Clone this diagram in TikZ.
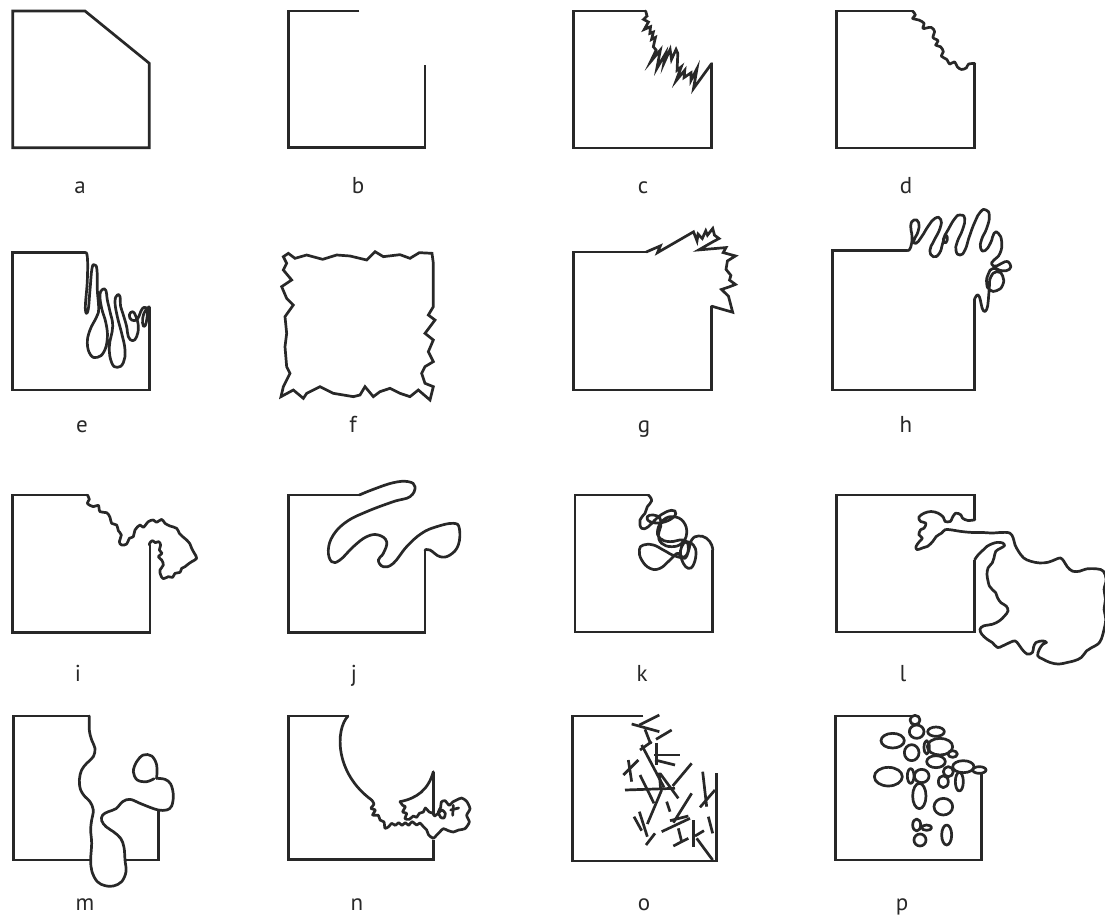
\documentclass[tikz,border=0pt]{standalone}
\usepackage{fontspec}
\setmainfont{PT Sans}
\definecolor{inkc}{RGB}{40,40,40}
\begin{document}
\begin{tikzpicture}[x=1pt,y=-1pt]
\tikzset{
  ink/.style={draw=inkc, line width=2.7pt, line join=round, line cap=round},
  frame/.style={draw=inkc, line width=2.7pt, line join=miter, line cap=butt},
  lab/.style={font=\fontsize{23}{26}\selectfont, text=inkc, anchor=base, inner sep=0pt},
  sm/.style={ink, smooth, tension=0.6}
}
\useasboundingbox (0,0) rectangle (1105,915);

% ---------------- labels
\node[lab] (la) at (80,193) {a};
\node[lab] (lb) at (358,193) {b};
\node[lab] (lc) at (643,193) {c};
\node[lab] (ld) at (906,193) {d};
\node[lab] (le) at (82,432) {e};
\node[lab] (lf) at (353,432) {f};
\node[lab] (lg) at (644,432) {g};
\node[lab] (lh) at (906,432) {h};
\node[lab] (li) at (78,681) {i};
\node[lab] (lj) at (354,681) {j};
\node[lab] (lk) at (642,681) {k};
\node[lab] (ll) at (903,681) {l};
\node[lab] (lm) at (85,910) {m};
\node[lab] (ln) at (357,910) {n};
\node[lab] (lo) at (644,910) {o};
\node[lab] (lp) at (902,910) {p};

% ---------------- a, b
\begin{scope}[shift={(0,0)},scale=1/3]
\draw[frame] (38,33) -- (255,33) -- (448,190) -- (448,443) -- (38,443) -- cycle;
\draw[frame] (1078,33) -- (865,33) -- (865,443) -- (1275,443) -- (1275,195);
\end{scope}

% ---------------- c, d
\begin{scope}[shift={(559,0)},xscale=.3494,yscale=.334]
\draw[frame] (248,33) -- (42,33) -- (42,443) -- (437,443) -- (437,190);
\draw[ink, line join=miter] plot coordinates {(248,33) (252,48) (242,58) (256,66) (244,88) (262,80) (260,100) (270,96) (265,118) (276,112) (270,140) (278,150) (262,185) (290,150) (280,205) (305,160) (300,190) (318,148) (322,178) (335,148) (340,160) (338,210) (350,200) (335,242) (360,210) (358,232) (378,218) (378,240) (395,205) (385,265) (437,190)};
\draw[frame] (1012,33) -- (795,33) -- (795,443) -- (1190,443) -- (1190,190);
\draw[sm] plot coordinates {(1012,33) (1020,45) (1012,55) (1030,60) (1045,70) (1042,85) (1065,82) (1075,95) (1070,112) (1085,122) (1078,135) (1092,140) (1100,155) (1094,168) (1110,178) (1118,192) (1132,185) (1140,200) (1152,208) (1166,203) (1172,192) (1190,190)};
\end{scope}

% ---------------- e, f
\begin{scope}[shift={(0,240)},scale=1/3]
\draw[frame] (255,38) -- (38,38) -- (38,450) -- (448,450) -- (448,200);
\draw[ink] plot[smooth, tension=0.75] coordinates {(255,38) (262,50) (262,120) (256,205) (264,212) (270,150) (276,85) (284,75) (291,90) (292,150) (296,205) (290,230) (270,270) (262,310) (272,345) (292,352) (312,335) (322,295) (318,250) (305,205) (300,165) (308,148) (318,152) (322,180) (330,215) (338,260) (328,320) (335,368) (352,382) (370,368) (375,330) (365,280) (352,230) (345,185) (352,165) (360,170) (362,200) (370,225) (380,260) (385,290) (398,302) (410,290) (415,260) (408,230) (398,215) (388,225) (395,240) (412,238) (422,215) (432,202) (442,212) (438,250) (430,258) (428,235) (436,212) (448,200)};
\draw[ink, line join=miter] plot coordinates {(850,50) (865,40) (885,55) (920,45) (968,58) (1010,45) (1050,48) (1100,60) (1125,35) (1150,50) (1200,44) (1230,55) (1258,38) (1296,40) (1300,70) (1300,200) (1285,225) (1305,240) (1290,260) (1275,280) (1300,300) (1285,335) (1300,365) (1275,380) (1265,400) (1275,430) (1300,440) (1290,480) (1255,450) (1230,470) (1200,460) (1170,445) (1140,455) (1120,470) (1095,440) (1080,465) (1060,470) (1000,460) (960,440) (920,460) (910,475) (880,450) (843,470) (850,440) (870,400) (860,380) (855,320) (860,280) (855,230) (880,195) (860,175) (845,140) (875,120) (850,90) (860,70)} -- cycle;
\end{scope}

% ---------------- g
\begin{scope}[shift={(559,199)},xscale=.3494,yscale=.335]
\draw[frame] (250,158) -- (42,158) -- (42,570) -- (437,570) -- (437,320);
\draw[ink, line join=miter] plot coordinates {(250,158) (290,140) (282,160) (385,98) (395,125) (398,105) (410,118) (420,95) (425,108) (440,88) (445,108) (458,118) (440,128) (400,152) (478,145) (470,160) (505,170) (482,185) (478,210) (492,228) (488,242) (505,255) (488,262) (465,270) (485,290) (497,338) (437,320)};
\end{scope}

% ---------------- h
\begin{scope}[shift={(820,200)},scale=1/3]
\draw[frame] (262,152) -- (38,152) -- (38,570) -- (463,570) -- (463,300);
\draw[ink] plot[smooth, tension=0.9] coordinates {(262,152) (272,142) (276,110) (272,78) (282,60) (296,68) (294,95) (282,120) (288,130) (305,110) (325,78) (345,55) (362,58) (360,85) (342,122) (330,150) (340,170) (358,160) (368,130) (375,108) (382,112) (378,128) (370,118) (385,88) (405,55) (420,45) (434,55) (428,88) (412,125) (408,152) (420,165) (435,150) (448,110) (465,65) (482,35) (498,30) (508,48) (500,85) (485,118) (482,145) (495,152) (512,128) (522,100) (535,100) (545,125) (540,160) (522,180) (515,192) (530,198) (555,185) (570,192) (568,208) (545,212) (520,205) (505,222) (500,250) (510,270) (530,272) (548,255) (548,228) (530,215) (512,232) (508,262) (505,300) (500,328) (490,332) (483,310) (478,290) (470,286) (463,300)};
\end{scope}

% ---------------- i, j
\begin{scope}[shift={(0,480)},scale=1/3]
\draw[frame] (262,45) -- (38,45) -- (38,457) -- (450,457) -- (450,195);
\draw[sm] plot coordinates {(262,45) (268,58) (262,70) (280,80) (295,76) (300,95) (320,98) (330,112) (335,130) (350,135) (355,152) (364,165) (358,185) (365,195) (380,192) (388,175) (400,170) (405,150) (420,135) (430,142) (445,125) (460,120) (470,127) (485,118) (495,130) (510,138) (530,145) (538,160) (548,170) (560,180) (570,192) (575,205) (582,218) (590,235) (575,245) (565,252) (555,260) (545,265) (540,277) (525,280) (518,292) (505,290) (490,296) (482,285) (480,270) (490,255) (485,240) (475,230) (486,220) (478,210) (482,195) (476,185) (466,188) (458,182) (450,188) (448,195)};
\draw[frame] (1078,45) -- (865,45) -- (865,457) -- (1275,457) -- (1275,210);
\draw[ink] plot[smooth, tension=0.7] coordinates {(1078,45) (1120,28) (1180,8) (1225,5) (1245,20) (1230,50) (1180,65) (1100,95) (1040,125) (1000,165) (985,210) (995,245) (1020,240) (1060,200) (1100,170) (1135,165) (1160,185) (1150,220) (1135,240) (1150,260) (1180,250) (1220,200) (1265,160) (1310,140) (1360,130) (1378,145) (1375,195) (1350,225) (1320,230) (1290,210) (1275,210)};
\end{scope}

% ---------------- k
\begin{scope}[shift={(560,480)},scale=1/3]
\draw[frame] (265,45) -- (45,45) -- (45,456) -- (458,456) -- (458,210);
\draw[ink] plot[smooth, tension=0.75] coordinates {(265,45) (275,62) (262,80) (255,100) (240,120) (245,145) (265,140) (290,115) (320,95) (345,93) (340,112) (305,128) (270,125) (262,110) (280,105) (300,115) (302,140) (295,165) (305,190) (335,200) (365,190) (380,160) (370,125) (340,110) (310,120) (293,150) (300,175) (330,185) (370,180) (385,200) (375,230) (345,228) (310,210) (280,195) (250,195) (238,210) (245,240) (270,265) (300,265) (330,240) (355,220) (370,250) (385,265) (400,255) (408,220) (400,195) (380,185) (365,200) (362,225) (375,235) (385,215) (395,180) (415,168) (440,175) (455,195) (458,210)};
\end{scope}

% ---------------- l
\begin{scope}[shift={(559,480)},xscale=.3494,yscale=.3317]
\draw[frame] (1190,120) -- (1190,45) -- (795,45) -- (795,458) -- (1190,458) -- (1190,240);
\draw[sm] plot coordinates {(1190,120) (1170,122) (1155,115) (1150,105) (1135,100) (1125,115) (1120,125) (1105,125) (1100,112) (1085,100) (1065,95) (1045,100) (1030,112) (1035,125) (1050,130) (1045,145) (1035,150) (1030,165) (1040,175) (1032,185) (1022,200) (1025,210) (1040,205) (1055,200) (1070,185) (1080,170) (1095,160) (1105,150) (1120,150) (1150,155) (1180,158) (1210,158) (1240,160) (1265,158) (1290,160) (1300,175) (1305,195) (1315,215) (1330,235) (1350,245) (1375,250) (1400,248) (1420,240) (1435,235) (1445,245) (1455,262) (1470,275) (1490,275) (1510,268) (1540,268) (1558,275) (1566,300) (1560,330) (1564,360) (1560,390) (1565,420) (1560,450) (1552,480) (1542,495) (1525,505) (1510,515) (1495,535) (1475,545) (1455,550) (1430,555) (1405,550) (1385,540) (1370,530) (1375,510) (1385,495) (1395,490) (1385,485) (1365,490) (1358,505) (1355,520) (1340,525) (1325,510) (1315,495) (1305,485) (1290,490) (1270,500) (1255,505) (1240,490) (1225,480) (1210,465) (1205,450) (1215,440) (1240,435) (1260,425) (1275,410) (1285,395) (1280,380) (1265,370) (1255,355) (1250,340) (1240,330) (1232,320) (1228,305) (1225,285) (1228,265) (1240,250) (1245,235) (1250,215) (1265,205) (1275,198) (1270,190) (1255,188) (1240,192) (1225,200) (1215,210) (1200,225) (1190,240)};
\end{scope}

% ---------------- m
\begin{scope}[shift={(0,730)},scale=1/3]
\draw[frame] (272,390) -- (40,390) -- (40,-42) -- (268,-42);
\draw[frame] (372,390) -- (475,390) -- (475,240);
\draw[sm] plot coordinates {(268,-42) (268,0) (275,30) (285,55) (280,80) (260,100) (245,120) (238,150) (242,180) (255,200) (270,215) (280,240) (275,270) (272,300) (275,340) (272,390) (276,425) (292,455) (315,467) (340,468) (365,455) (378,425) (375,390) (372,352) (362,325) (340,305) (318,290) (305,272) (308,255) (325,245) (348,236) (368,215) (390,208) (420,220) (450,232) (475,240) (500,240) (515,228) (520,195) (512,162) (495,148) (470,145)};
\draw[sm] plot coordinates {(470,145) (470,105) (455,78) (430,75) (410,95) (400,125) (412,150) (440,155) (462,146)};
\end{scope}

% ---------------- n
\begin{scope}[shift={(270,730)},scale=1/3]
\draw[frame] (490,330) -- (490,388) -- (55,388) -- (55,-42) -- (234,-42);
\draw[ink] (234,-42) .. controls (195,0) and (195,130) .. (305,210);
\draw[sm, tension=0.4] plot coordinates {(305,210) (312,222) (303,235) (316,240) (308,255) (325,256) (330,270) (342,276) (345,295) (356,290) (365,280) (376,286) (386,278) (396,286) (406,278) (416,286) (426,275) (440,285) (450,279) (460,290) (470,300) (476,315) (490,325) (500,315) (510,305) (520,296) (535,302) (550,306) (566,300) (585,296) (598,276) (590,256) (600,236) (590,214) (575,204) (560,210) (548,216) (538,226) (525,212) (514,216) (512,232) (505,246) (512,262) (522,264) (526,250) (516,240) (504,250) (494,258) (490,254)};
\draw[frame] (490,254) -- (490,125);
\draw[ink] (490,125) .. controls (475,180) and (440,205) .. (390,215);
\draw[sm, tension=0.4] plot coordinates {(390,215) (398,226) (406,230) (398,246) (410,250) (405,266) (418,268) (430,258) (440,262) (448,250) (460,246) (466,234) (478,246) (490,250)};
\draw[ink] (542,240) -- (566,234);
\draw[ink] (550,226) -- (548,256);
\end{scope}

% ---------------- o
\begin{scope}[shift={(560,710)},scale=1/3]
\draw[frame] (250,18) -- (38,18) -- (38,453) -- (470,453) -- (470,190);
\foreach \a/\b in {
 {(215,42)}/{(298,65)}, {(238,45)}/{(298,15)}, {(255,58)}/{(272,102)},
 {(240,120)}/{(275,95)}, {(288,88)}/{(335,60)}, {(290,100)}/{(290,165)},
 {(282,135)}/{(360,135)}, {(285,150)}/{(345,165)}, {(245,105)}/{(312,232)},
 {(190,195)}/{(235,150)}, {(205,150)}/{(215,215)}, {(195,240)}/{(345,235)},
 {(240,195)}/{(282,280)}, {(300,190)}/{(355,265)}, {(338,228)}/{(395,160)},
 {(262,342)}/{(305,240)}, {(222,320)}/{(245,362)}, {(238,305)}/{(262,380)},
 {(258,405)}/{(285,370)}, {(320,275)}/{(330,305)}, {(340,338)}/{(395,250)},
 {(330,332)}/{(385,318)}, {(305,365)}/{(390,325)}, {(355,355)}/{(365,395)},
 {(340,408)}/{(385,385)}, {(400,330)}/{(400,410)}, {(428,185)}/{(440,290)},
 {(420,292)}/{(465,240)}, {(445,320)}/{(458,370)}, {(410,385)}/{(458,450)},
 {(405,378)}/{(432,362)}, {(298,188)}/{(302,240)}}
 {\draw[ink, line cap=butt] \a -- \b;}
\end{scope}

% ---------------- p
\begin{scope}[shift={(560,710)},scale=1/3]
\draw[frame] (1055,18) -- (826,18) -- (826,450) -- (1265,450) -- (1265,190);
\foreach \cx/\cy/\rx/\ry in {
 1065/30/15/14, 1070/65/22/20, 1128/65/25/14, 998/92/35/22, 1055/128/22/24,
 1100/112/8/20, 1140/110/38/25, 1178/132/14/10, 1128/155/28/18, 985/200/42/28,
 1052/198/10/22, 1085/198/22/20, 1165/185/15/15, 1210/170/32/18, 1258/180/20/10,
 1150/215/15/18, 1198/215/12/28, 1078/258/20/38, 1150/290/28/25, 1070/345/12/18,
 1100/353/15/8, 1080/390/18/18, 1160/375/15/30}
 {\draw[ink] (\cx,\cy) ellipse [x radius=\rx, y radius=\ry];}
\end{scope}
\end{tikzpicture}
\end{document}
